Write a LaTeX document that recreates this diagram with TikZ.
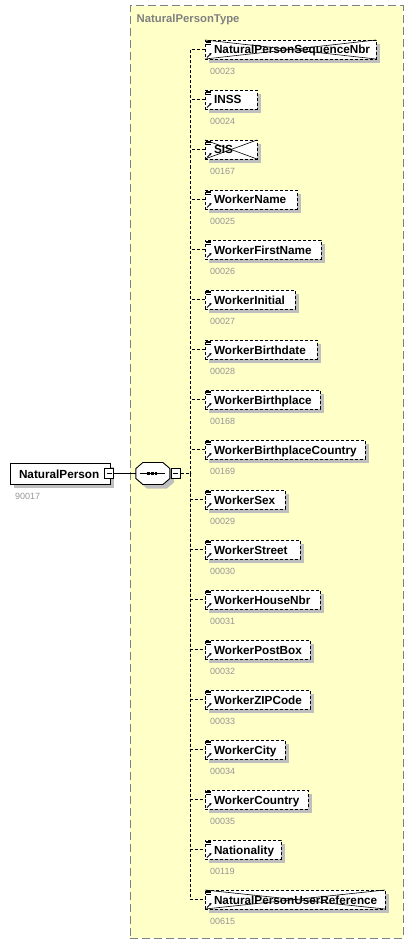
\documentclass[tikz,border=0pt]{standalone}
\usepackage{fontspec}
\setmainfont{Liberation Sans}
\usepackage{tikz}
\usetikzlibrary{positioning}
\usetikzlibrary{shadows}
\usetikzlibrary{arrows.meta}
\definecolor{typeyellow}{RGB}{255,255,200}
\definecolor{typegray}{RGB}{128,128,128}
\definecolor{numgray}{RGB}{150,150,150}

\begin{document}
\begin{tikzpicture}[x=1pt,y=-1pt,
	shade box/.style={drop shadow={shadow xshift=4pt, shadow yshift=-4pt, fill=black!25, opacity=1}},
	elem node/.style={rectangle, draw, fill=white, line width=0.9pt, dash pattern=on 3pt off 2pt, shade box,
		font=\fontsize{11.75}{14}\selectfont\bfseries, anchor=west, outer sep=0pt,
		inner xsep=0pt, inner ysep=2pt, text height=12pt, text depth=3pt, minimum height=19pt,
		align=left, execute at begin node={\hspace*{9pt}},
		path picture={
			\draw[line width=0.7pt, solid] ([xshift=1pt,yshift=-1pt]path picture bounding box.north west) -- ++(5pt,0)
				++(-5pt,-1.6pt) -- ++(5pt,0) ++(-5pt,-1.6pt) -- ++(5pt,0);
			\draw[line width=0.8pt, solid, -{Stealth[length=2.5pt,width=2.6pt]}] ([xshift=2pt,yshift=1.5pt]path picture bounding box.south west) -- ++(4.5pt,4.5pt);
		}},
	nil node/.style={elem node, append after command={
		[every path/.style={}] (\tikzlastnode.north west) edge[draw, solid, line width=0.6pt] (\tikzlastnode.south east)
		(\tikzlastnode.south west) edge[draw, solid, line width=0.6pt] (\tikzlastnode.north east)}},
	num/.style={font=\fontsize{9}{10}\selectfont, text=numgray, anchor=west, inner sep=0pt},
	minus/.style={rectangle, draw, fill=white, line width=0.8pt, minimum width=9pt, minimum height=10pt, inner sep=0pt,
		path picture={\draw[line width=0.8pt] ([xshift=2pt]path picture bounding box.west) -- ([xshift=-2pt]path picture bounding box.east);}},
	bus line/.style={draw, line width=0.9pt, dash pattern=on 3pt off 2pt, to path={|- (\tikztotarget)}}]

	\useasboundingbox (0,0) rectangle (415,944);

	% complex type
	\node[rectangle, draw=typegray, fill=typeyellow, line width=1pt, dash pattern=on 8pt off 4pt,
		minimum width=273pt, minimum height=932pt, anchor=north west] (tp) at (129.5,5.5) {};
	\node[font=\fontsize{11.3}{13}\selectfont\bfseries, text=typegray, anchor=west, inner sep=0pt] (tpname)
		at ([xshift=7pt,yshift=-14.5pt]tp.north west) {NaturalPersonType};

	% root element and sequence
	\node[rectangle, draw, fill=white, line width=0.9pt, shade box, anchor=west, outer sep=0pt,
		font=\fontsize{11.75}{14}\selectfont\bfseries, inner ysep=2pt, inner xsep=0pt,
		text height=13.5pt, text depth=3.5pt, minimum height=21pt, text width=100pt, align=left,
		execute at begin node={\hspace*{9pt}}] (np) at (10,473.5) {NaturalPerson};
	\node[num] (npnum) at ([xshift=5pt,yshift=-12.5pt]np.south west) {90017};
	\node[minus] (npm) at ([xshift=-1pt]np.east) {};

	\node[rectangle, minimum width=34pt, minimum height=22pt, inner sep=0pt, outer sep=0pt,
		right=22pt of npm] (seq) {};
	\filldraw[fill=white, line width=0.9pt, shade box]
		([xshift=7pt]seq.north west) -- ([xshift=-7pt]seq.north east) -- ([yshift=-6pt]seq.north east)
		-- ([yshift=6pt]seq.south east) -- ([xshift=-7pt]seq.south east) -- ([xshift=7pt]seq.south west)
		-- ([yshift=6pt]seq.south west) -- ([yshift=-6pt]seq.north west) -- cycle;
	\draw[line width=0.9pt] ([xshift=-13pt]seq.center) -- ([xshift=12pt]seq.center);
	\fill ([xshift=-5.5pt,yshift=-1.4pt]seq.center) rectangle ++(2.8pt,2.8pt);
	\fill ([xshift=-1.9pt,yshift=-1.4pt]seq.center) rectangle ++(2.8pt,2.8pt);
	\fill ([xshift=1.7pt,yshift=-1.4pt]seq.center) rectangle ++(2.8pt,2.8pt);
	\node[minus, right=1pt of seq] (seqm) {};
	\coordinate[right=10pt of seqm] (bus);

	\draw[line width=0.9pt] (npm) -- (seq);
	\draw[line width=0.9pt, dash pattern=on 3pt off 2pt] (seqm) -- (bus);

	% child elements
	\node[nil node, text width=171pt] (1) at (205,49.5) {NaturalPersonSequenceNbr};
	\node[elem node, text width=52pt] (2) [below=31pt of 1.south west, anchor=north west] {INSS};
	\node[nil node, text width=52pt] (3) [below=31pt of 2.south west, anchor=north west] {SIS};
	\node[elem node, text width=92pt] (4) [below=31pt of 3.south west, anchor=north west] {WorkerName};
	\node[elem node, text width=116pt] (5) [below=31pt of 4.south west, anchor=north west] {WorkerFirstName};
	\node[elem node, text width=90pt] (6) [below=31pt of 5.south west, anchor=north west] {WorkerInitial};
	\node[elem node, text width=112pt] (7) [below=31pt of 6.south west, anchor=north west] {WorkerBirthdate};
	\node[elem node, text width=115pt] (8) [below=31pt of 7.south west, anchor=north west] {WorkerBirthplace};
	\node[elem node, text width=160pt] (9) [below=31pt of 8.south west, anchor=north west] {WorkerBirthplaceCountry};
	\node[elem node, text width=80pt] (10) [below=31pt of 9.south west, anchor=north west] {WorkerSex};
	\node[elem node, text width=95pt] (11) [below=31pt of 10.south west, anchor=north west] {WorkerStreet};
	\node[elem node, text width=115pt] (12) [below=31pt of 11.south west, anchor=north west] {WorkerHouseNbr};
	\node[elem node, text width=105pt] (13) [below=31pt of 12.south west, anchor=north west] {WorkerPostBox};
	\node[elem node, text width=105pt] (14) [below=31pt of 13.south west, anchor=north west] {WorkerZIPCode};
	\node[elem node, text width=80pt] (15) [below=31pt of 14.south west, anchor=north west] {WorkerCity};
	\node[elem node, text width=103pt] (16) [below=31pt of 15.south west, anchor=north west] {WorkerCountry};
	\node[elem node, text width=76pt] (17) [below=31pt of 16.south west, anchor=north west] {Nationality};
	\node[nil node, text width=180pt] (18) [below=31pt of 17.south west, anchor=north west] {NaturalPersonUserReference};

	% ids
	\node[num] (n1) at ([xshift=5pt,yshift=-12pt]1.south west) {00023};
	\node[num] (n2) at ([xshift=5pt,yshift=-12pt]2.south west) {00024};
	\node[num] (n3) at ([xshift=5pt,yshift=-12pt]3.south west) {00167};
	\node[num] (n4) at ([xshift=5pt,yshift=-12pt]4.south west) {00025};
	\node[num] (n5) at ([xshift=5pt,yshift=-12pt]5.south west) {00026};
	\node[num] (n6) at ([xshift=5pt,yshift=-12pt]6.south west) {00027};
	\node[num] (n7) at ([xshift=5pt,yshift=-12pt]7.south west) {00028};
	\node[num] (n8) at ([xshift=5pt,yshift=-12pt]8.south west) {00168};
	\node[num] (n9) at ([xshift=5pt,yshift=-12pt]9.south west) {00169};
	\node[num] (n10) at ([xshift=5pt,yshift=-12pt]10.south west) {00029};
	\node[num] (n11) at ([xshift=5pt,yshift=-12pt]11.south west) {00030};
	\node[num] (n12) at ([xshift=5pt,yshift=-12pt]12.south west) {00031};
	\node[num] (n13) at ([xshift=5pt,yshift=-12pt]13.south west) {00032};
	\node[num] (n14) at ([xshift=5pt,yshift=-12pt]14.south west) {00033};
	\node[num] (n15) at ([xshift=5pt,yshift=-12pt]15.south west) {00034};
	\node[num] (n16) at ([xshift=5pt,yshift=-12pt]16.south west) {00035};
	\node[num] (n17) at ([xshift=5pt,yshift=-12pt]17.south west) {00119};
	\node[num] (n18) at ([xshift=5pt,yshift=-12pt]18.south west) {00615};

	\path[every edge/.style={bus line}]
	(bus)
	edge (1) edge (2) edge (3) edge (4) edge (5) edge (6)
	edge (7) edge (8) edge (9) edge (10) edge (11) edge (12)
	edge (13) edge (14) edge (15) edge (16) edge (17) edge (18);

\end{tikzpicture}
\end{document}
